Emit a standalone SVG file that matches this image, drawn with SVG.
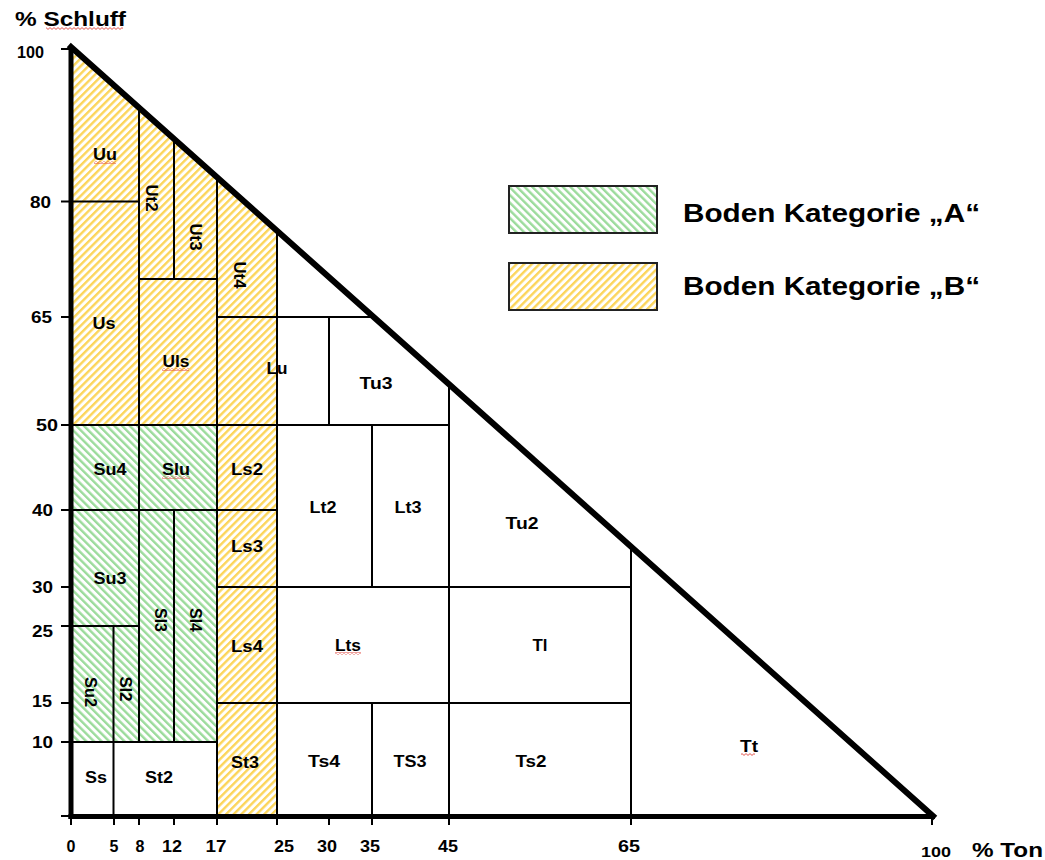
<svg xmlns="http://www.w3.org/2000/svg" width="1045" height="860" viewBox="0 0 1045 860">
<style>
text{font-family:"Liberation Sans",Arial,sans-serif;font-weight:bold;fill:#000}
.lbl{font-size:16px;text-anchor:middle}
.ax{font-size:16px}
.axm{font-size:16px;text-anchor:middle}
.axe{font-size:16px;text-anchor:end}
.grid line{stroke:#000;stroke-width:2}
.tick line{stroke:#000;stroke-width:2}
.sq{fill:url(#squig)}
</style>
<defs>
<pattern id="hatchB" patternUnits="userSpaceOnUse" width="5.4" height="5.4" patternTransform="rotate(45)">
<rect width="2.4" height="5.4" fill="#fcd55a"/>
</pattern>
<pattern id="hatchA" patternUnits="userSpaceOnUse" width="5.4" height="5.4" patternTransform="rotate(-45)">
<rect width="2.4" height="5.4" fill="#9bdb9b"/>
</pattern>
<pattern id="squig" patternUnits="userSpaceOnUse" width="4" height="3">
<path d="M0 2.4 L2 0.6 L4 2.4" fill="none" stroke="#e0443c" stroke-width="0.9"/>
</pattern>
</defs>
<rect width="1045" height="860" fill="#fff"/>

<g id="hatching">
<polygon points="71,48 277,232 277,816 217,816 217,425 71,425" fill="url(#hatchB)"/>
<rect x="71" y="425" width="146" height="317" fill="url(#hatchA)"/>
</g>

<g id="connectors" class="grid">
<line x1="71" y1="201.5" x2="139" y2="201.5"/>
<line x1="139" y1="106" x2="139" y2="742"/>
<line x1="174" y1="137" x2="174" y2="279"/>
<line x1="139" y1="279" x2="217" y2="279"/>
<line x1="217" y1="176" x2="217" y2="816"/>
<line x1="217" y1="317" x2="372" y2="317"/>
<line x1="277" y1="229" x2="277" y2="816"/>
<line x1="329" y1="317" x2="329" y2="425"/>
<line x1="71" y1="425" x2="449" y2="425"/>
<line x1="449" y1="384" x2="449" y2="816"/>
<line x1="372" y1="425" x2="372" y2="587"/>
<line x1="372" y1="703" x2="372" y2="816"/>
<line x1="71" y1="510" x2="277" y2="510"/>
<line x1="217" y1="587" x2="631" y2="587"/>
<line x1="174" y1="510" x2="174" y2="742"/>
<line x1="631" y1="546" x2="631" y2="816"/>
<line x1="71" y1="626" x2="139" y2="626"/>
<line x1="113.5" y1="626" x2="113.5" y2="816"/>
<line x1="217" y1="703" x2="631" y2="703"/>
<line x1="71" y1="742" x2="217" y2="742"/>
</g>

<g id="axes">
<g class="tick">
<line x1="61" y1="49" x2="71" y2="49"/>
<line x1="61" y1="201.5" x2="71" y2="201.5"/>
<line x1="61" y1="317" x2="71" y2="317"/>
<line x1="61" y1="425" x2="71" y2="425"/>
<line x1="61" y1="510" x2="71" y2="510"/>
<line x1="61" y1="587" x2="71" y2="587"/>
<line x1="61" y1="626" x2="71" y2="626"/>
<line x1="61" y1="703" x2="71" y2="703"/>
<line x1="61" y1="742" x2="71" y2="742"/>
<line x1="61" y1="816" x2="71" y2="816"/>
<line x1="71" y1="816" x2="71" y2="825"/>
<line x1="114" y1="816" x2="114" y2="825"/>
<line x1="139" y1="816" x2="139" y2="825"/>
<line x1="174" y1="816" x2="174" y2="825"/>
<line x1="217" y1="816" x2="217" y2="825"/>
<line x1="277" y1="816" x2="277" y2="825"/>
<line x1="329" y1="816" x2="329" y2="825"/>
<line x1="372" y1="816" x2="372" y2="825"/>
<line x1="449" y1="816" x2="449" y2="825"/>
<line x1="631" y1="816" x2="631" y2="825"/>
<line x1="932" y1="816" x2="932" y2="825"/>
</g>
<line x1="71" y1="46" x2="71" y2="819" stroke="#000" stroke-width="5"/>
<line x1="68.5" y1="816.5" x2="935" y2="816.5" stroke="#000" stroke-width="5"/>
<line x1="71" y1="47" x2="933" y2="816" stroke="#000" stroke-width="6" stroke-linecap="square"/>

<text x="15" y="26" font-size="20" textLength="111" lengthAdjust="spacingAndGlyphs">% Schluff</text>
<rect class="sq" x="46" y="27" width="77" height="3"/>
<text x="972" y="857" font-size="20" textLength="71" lengthAdjust="spacingAndGlyphs">% Ton</text>

<text class="axe" x="44" y="58" textLength="27" lengthAdjust="spacingAndGlyphs">100</text>
<text class="axe" x="51" y="208" textLength="21" lengthAdjust="spacingAndGlyphs">80</text>
<text class="axe" x="52" y="323" textLength="21" lengthAdjust="spacingAndGlyphs">65</text>
<text class="axe" x="58" y="431" textLength="22" lengthAdjust="spacingAndGlyphs">50</text>
<text class="axe" x="53" y="516" textLength="21" lengthAdjust="spacingAndGlyphs">40</text>
<text class="axe" x="53" y="593" textLength="21" lengthAdjust="spacingAndGlyphs">30</text>
<text class="axe" x="53" y="637" textLength="21" lengthAdjust="spacingAndGlyphs">25</text>
<text class="axe" x="52" y="707" textLength="20" lengthAdjust="spacingAndGlyphs">15</text>
<text class="axe" x="53" y="748" textLength="21" lengthAdjust="spacingAndGlyphs">10</text>

<text class="axm" x="71" y="852">0</text>
<text class="axm" x="114" y="852">5</text>
<text class="axm" x="140" y="852">8</text>
<text class="axm" x="172" y="852" textLength="20" lengthAdjust="spacingAndGlyphs">12</text>
<text class="axm" x="216" y="852" textLength="21" lengthAdjust="spacingAndGlyphs">17</text>
<text class="axm" x="284" y="852" textLength="20" lengthAdjust="spacingAndGlyphs">25</text>
<text class="axm" x="327" y="852" textLength="20" lengthAdjust="spacingAndGlyphs">30</text>
<text class="axm" x="370" y="852" textLength="20" lengthAdjust="spacingAndGlyphs">35</text>
<text class="axm" x="448" y="852" textLength="20" lengthAdjust="spacingAndGlyphs">45</text>
<text class="axm" x="629" y="852" textLength="22" lengthAdjust="spacingAndGlyphs">65</text>
<text x="936" y="857" font-size="14" text-anchor="middle" textLength="30" lengthAdjust="spacingAndGlyphs">100</text>
</g>

<g id="cell-Uu"><text class="lbl" x="105" y="160" textLength="24" lengthAdjust="spacingAndGlyphs">Uu</text><rect class="sq" x="94" y="161" width="22" height="3"/></g>
<g id="cell-Ut2"><text class="lbl" transform="translate(152,198) rotate(90)" y="6" textLength="27" lengthAdjust="spacingAndGlyphs">Ut2</text></g>
<g id="cell-Ut3"><text class="lbl" transform="translate(196,237) rotate(90)" y="6" textLength="27" lengthAdjust="spacingAndGlyphs">Ut3</text></g>
<g id="cell-Ut4"><text class="lbl" transform="translate(240,275) rotate(90)" y="6" textLength="27" lengthAdjust="spacingAndGlyphs">Ut4</text></g>
<g id="cell-Us"><text class="lbl" x="104" y="329" textLength="23" lengthAdjust="spacingAndGlyphs">Us</text></g>
<g id="cell-Uls"><text class="lbl" x="176" y="367" textLength="27" lengthAdjust="spacingAndGlyphs">Uls</text><rect class="sq" x="162" y="368" width="27" height="3"/></g>
<g id="cell-Lu"><text class="lbl" x="277" y="374" textLength="21" lengthAdjust="spacingAndGlyphs">Lu</text></g>
<g id="cell-Tu3"><text class="lbl" x="376" y="389" textLength="33" lengthAdjust="spacingAndGlyphs">Tu3</text></g>
<g id="cell-Su4"><text class="lbl" x="110" y="475" textLength="33" lengthAdjust="spacingAndGlyphs">Su4</text></g>
<g id="cell-Slu"><text class="lbl" x="176" y="475" textLength="28" lengthAdjust="spacingAndGlyphs">Slu</text><rect class="sq" x="162" y="476" width="28" height="3"/></g>
<g id="cell-Ls2"><text class="lbl" x="247" y="475" textLength="32" lengthAdjust="spacingAndGlyphs">Ls2</text></g>
<g id="cell-Lt2"><text class="lbl" x="323" y="513" textLength="27" lengthAdjust="spacingAndGlyphs">Lt2</text></g>
<g id="cell-Lt3"><text class="lbl" x="408" y="513" textLength="27" lengthAdjust="spacingAndGlyphs">Lt3</text></g>
<g id="cell-Tu2"><text class="lbl" x="522" y="529" textLength="33" lengthAdjust="spacingAndGlyphs">Tu2</text></g>
<g id="cell-Ls3"><text class="lbl" x="247" y="552" textLength="32" lengthAdjust="spacingAndGlyphs">Ls3</text></g>
<g id="cell-Su3"><text class="lbl" x="110" y="584" textLength="33" lengthAdjust="spacingAndGlyphs">Su3</text></g>
<g id="cell-Sl3"><text class="lbl" transform="translate(161,620) rotate(90)" y="6" textLength="24" lengthAdjust="spacingAndGlyphs">Sl3</text></g>
<g id="cell-Sl4"><text class="lbl" transform="translate(196,620) rotate(90)" y="6" textLength="24" lengthAdjust="spacingAndGlyphs">Sl4</text></g>
<g id="cell-Ls4"><text class="lbl" x="247" y="652" textLength="32" lengthAdjust="spacingAndGlyphs">Ls4</text></g>
<g id="cell-Lts"><text class="lbl" x="348" y="651" textLength="26" lengthAdjust="spacingAndGlyphs">Lts</text><rect class="sq" x="335" y="652" width="26" height="3"/></g>
<g id="cell-Tl"><text class="lbl" x="540" y="651" textLength="15" lengthAdjust="spacingAndGlyphs">Tl</text></g>
<g id="cell-Su2"><text class="lbl" transform="translate(91,692) rotate(90)" y="6" textLength="30" lengthAdjust="spacingAndGlyphs">Su2</text></g>
<g id="cell-Sl2"><text class="lbl" transform="translate(126,689) rotate(90)" y="6" textLength="25" lengthAdjust="spacingAndGlyphs">Sl2</text></g>
<g id="cell-St3"><text class="lbl" x="245" y="768" textLength="28" lengthAdjust="spacingAndGlyphs">St3</text></g>
<g id="cell-Ss"><text class="lbl" x="96" y="783" textLength="22" lengthAdjust="spacingAndGlyphs">Ss</text></g>
<g id="cell-St2"><text class="lbl" x="159" y="783" textLength="28" lengthAdjust="spacingAndGlyphs">St2</text></g>
<g id="cell-Ts4"><text class="lbl" x="324" y="767" textLength="32" lengthAdjust="spacingAndGlyphs">Ts4</text></g>
<g id="cell-TS3"><text class="lbl" x="410" y="767" textLength="33" lengthAdjust="spacingAndGlyphs">TS3</text></g>
<g id="cell-Ts2"><text class="lbl" x="531" y="767" textLength="31" lengthAdjust="spacingAndGlyphs">Ts2</text></g>
<g id="cell-Tt"><text class="lbl" x="749" y="752" textLength="18" lengthAdjust="spacingAndGlyphs">Tt</text><rect class="sq" x="741" y="753" width="14" height="3"/></g>

<g id="legend-A">
<rect x="509" y="186" width="148" height="47" fill="url(#hatchA)" stroke="#222" stroke-width="2"/>
<text x="683" y="222" font-size="26" textLength="297" lengthAdjust="spacingAndGlyphs">Boden Kategorie „A“</text>
</g>
<g id="legend-B">
<rect x="509" y="263" width="148" height="47" fill="url(#hatchB)" stroke="#222" stroke-width="2"/>
<text x="683" y="295" font-size="26" textLength="297" lengthAdjust="spacingAndGlyphs">Boden Kategorie „B“</text>
</g>
</svg>
